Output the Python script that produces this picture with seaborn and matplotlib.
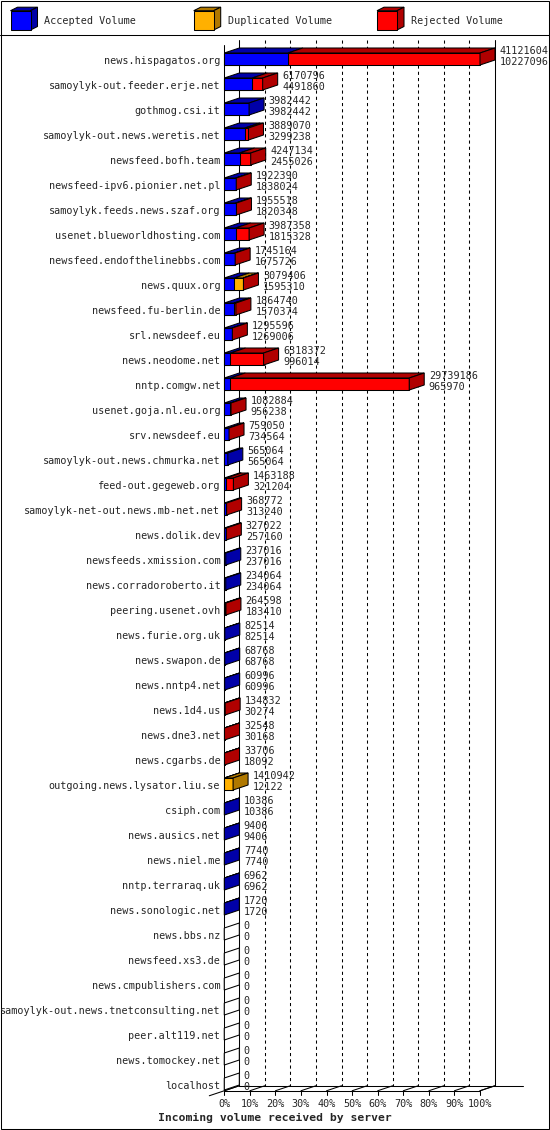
import matplotlib
matplotlib.use("Agg")
import matplotlib.pyplot as plt
from matplotlib.patches import Polygon, Rectangle
import numpy as np
import pandas as pd
import seaborn as sns


# DATA
servers = [
    "news.hispagatos.org", "samoylyk-out.feeder.erje.net", "gothmog.csi.it",
    "samoylyk-out.news.weretis.net", "newsfeed.bofh.team", "newsfeed-ipv6.pionier.net.pl",
    "samoylyk.feeds.news.szaf.org", "usenet.blueworldhosting.com", "newsfeed.endofthelinebbs.com",
    "news.quux.org", "newsfeed.fu-berlin.de", "srl.newsdeef.eu", "news.neodome.net",
    "nntp.comgw.net", "usenet.goja.nl.eu.org", "srv.newsdeef.eu", "samoylyk-out.news.chmurka.net",
    "feed-out.gegeweb.org", "samoylyk-net-out.news.mb-net.net", "news.dolik.dev",
    "newsfeeds.xmission.com", "news.corradoroberto.it", "peering.usenet.ovh", "news.furie.org.uk",
    "news.swapon.de", "news.nntp4.net", "news.1d4.us", "news.dne3.net", "news.cgarbs.de",
    "outgoing.news.lysator.liu.se", "csiph.com", "news.ausics.net", "news.niel.me",
    "nntp.terraraq.uk", "news.sonologic.net", "news.bbs.nz", "newsfeed.xs3.de",
    "news.cmpublishers.com", "samoylyk-out.news.tnetconsulting.net", "peer.alt119.net",
    "news.tomockey.net", "localhost",
]
total_volume = [
    41121604, 6170796, 3982442, 3889070, 4247134, 1922390, 1955518, 3987358, 1745164,
    3079406, 1864740, 1295596, 6318372, 29739186, 1082884, 759050, 565064, 1463188,
    368772, 327022, 237016, 234064, 264598, 82514, 68768, 60996, 134832, 32548, 33706,
    1410942, 10386, 9406, 7740, 6962, 1720, 0, 0, 0, 0, 0, 0, 0,
]
accepted_volume = [
    10227096, 4491860, 3982442, 3299238, 2455026, 1838024, 1820348, 1815328, 1675726,
    1595310, 1570374, 1269006, 996014, 965970, 956238, 734564, 565064, 321204,
    313240, 257160, 237016, 234064, 183410, 82514, 68768, 60996, 30274, 30168, 18092,
    12122, 10386, 9406, 7740, 6962, 1720, 0, 0, 0, 0, 0, 0, 0,
]
duplicated_volume = [
    0, 0, 0, 0, 0, 0, 0, 0, 0,
    1450000, 0, 0, 0, 0, 0, 0, 0, 0,
    0, 0, 0, 0, 0, 0, 0, 0, 0, 0, 0,
    1398820, 0, 0, 0, 0, 0, 0, 0, 0, 0, 0, 0, 0,
]
legend_labels = ["Accepted Volume", "Duplicated Volume", "Rejected Volume"]
tick_labels = [f"{p}%" for p in range(0, 101, 10)]
title = "Incoming volume received by server"

# COLORS (front face, dark face)
BLUE, BLUE_D = "#0000ff", "#0000a8"
ORANGE, ORANGE_D = "#ffb000", "#b07800"
RED, RED_D = "#ff0000", "#b00000"

# GEOMETRY (pixels of the 550x1130 picture)
W, H = 550, 1130
X0_PX, X100_PX = 224.3, 480.0
ROW0_PX, ROW_PX = 59.0, 25.0
PX = (X100_PX - X0_PX) / 100
DX = 15 / PX            # depth, in percent units
DY = 5 / ROW_PX         # depth, in row units
FACE_H = 12 / ROW_PX
LW = 0.75
FONT = 7.3

sns.set_style("white")
plt.rcParams["font.family"] = ["DejaVu Sans Mono"]

total = np.array(total_volume, dtype=float)
acc = np.array(accepted_volume, dtype=float)
dup = np.array(duplicated_volume, dtype=float)
scale = 100 / total.max()

df = pd.DataFrame({
    "server": servers,
    "acc": acc * scale,
    "accdup": (acc + dup) * scale,
    "total": total * scale,
})

fig = plt.figure(figsize=(W / 100, H / 100), dpi=100)

# frame, legend (pixel coords)
bg = fig.add_axes([0, 0, 1, 1])
bg.set_xlim(0, W)
bg.set_ylim(H, 0)
bg.axis("off")
bg.add_patch(Rectangle((0.5, 0.5), W - 1.5, H - 1.5, fill=False, ec="black", lw=LW))
bg.plot([0, W], [34.5, 34.5], color="black", lw=LW)
for x0, lab, c, cd in zip([10.5, 193.7, 377.0], legend_labels,
                          [BLUE, ORANGE, RED], [BLUE_D, ORANGE_D, RED_D]):
    y0, y1, d, e = 10.7, 30.0, 7.0, 3.5
    bg.add_patch(Polygon([(x0, y0), (x0 + 20, y0), (x0 + 20 + d, y0 - e), (x0 + d, y0 - e)],
                         fc=cd, ec="black", lw=LW))
    bg.add_patch(Polygon([(x0 + 20, y0), (x0 + 20, y1), (x0 + 20 + d, y1 - e), (x0 + 20 + d, y0 - e)],
                         fc=cd, ec="black", lw=LW))
    bg.add_patch(Rectangle((x0, y0), 20, y1 - y0, fc=c, ec="black", lw=LW))
    bg.text(x0 + 34, 23.5, lab, fontsize=FONT, va="baseline", ha="left")
bg.text(W / 2, 1121, title, fontsize=8.2, fontweight="bold", ha="center", va="baseline")

# main chart, data coords: x = percent, y = row
ax = fig.add_axes([0, 0, 1, 1])
ax.patch.set_alpha(0)

for col, color in [("total", RED), ("accdup", ORANGE), ("acc", BLUE)]:
    sns.barplot(data=df, x=col, y="server", orient="h", color=color, saturation=1,
                width=FACE_H, edgecolor="black", linewidth=LW, errorbar=None, ax=ax, zorder=3)

ax.set_xlim(-X0_PX / PX, (W - X0_PX) / PX)
ax.set_ylim((H - ROW0_PX) / ROW_PX, -ROW0_PX / ROW_PX)
ax.axis("off")

# 3D walls and floor
n = len(servers)
y_ff = n - 1 + 0.27          # front floor
y_bf = y_ff - DY             # back floor
y_top = -0.56
kw = dict(color="black", lw=LW, zorder=1)
ax.plot([0, 0], [y_top, y_ff], **kw)
ax.plot([DX, DX], [y_top - DY, y_bf], **kw)
ax.plot([100 + DX, 100 + DX], [y_top - DY, y_bf], **kw)
for k in range(1, 10):
    ax.plot([k * 10 + DX] * 2, [y_top - DY, y_bf], color="black", lw=LW,
            ls=(0, (3, 3)), zorder=1)
ax.plot([0, 100], [y_ff, y_ff], **kw)
ax.plot([-DX, DX], [y_ff + DY, y_bf], **kw)
ax.plot([100, 100 + DX], [y_ff, y_bf], **kw)
ax.plot([DX, (523 - X0_PX) / PX], [y_bf, y_bf], **kw)
for k, lab in enumerate(tick_labels):
    x = k * 10
    ax.plot([x, x], [y_ff, y_ff + 4 / ROW_PX], **kw)
    ax.plot([x, x + DX], [y_ff, y_bf], **kw)
    ax.text(x, (1107 - ROW0_PX) / ROW_PX, lab, fontsize=FONT, ha="center", va="baseline")

# top and side faces
for i in range(n):
    a, ad, t = df["acc"][i], df["accdup"][i], df["total"][i]
    yt, yb = i - FACE_H / 2, i + FACE_H / 2
    segs = [(0, a, BLUE_D), (a, ad, ORANGE_D), (ad, t, RED_D)]
    segs = [s for s in segs if s[1] > s[0]]
    for s, e, cd in segs:
        ax.add_patch(Polygon([(s, yt), (e, yt), (e + DX, yt - DY), (s + DX, yt - DY)],
                             fc=cd, ec="black", lw=LW, zorder=4))
    side = segs[-1][2] if segs else "white"
    ax.add_patch(Polygon([(t, yt), (t, yb), (t + DX, yb - DY), (t + DX, yt - DY)],
                         fc=side, ec="black", lw=LW, zorder=4))

    # labels
    ax.text(-4 / PX, i + 5.3 / ROW_PX, servers[i], fontsize=FONT, ha="right", va="baseline")
    xl = t + DX + 4.5 / PX
    ax.text(xl, i - 4.7 / ROW_PX, str(total_volume[i]), fontsize=FONT, va="baseline", zorder=5)
    ax.text(xl, i + 6 / ROW_PX, str(accepted_volume[i]), fontsize=FONT, va="baseline", zorder=5)

fig.savefig("out.png", dpi=100)
plt.close(fig)
